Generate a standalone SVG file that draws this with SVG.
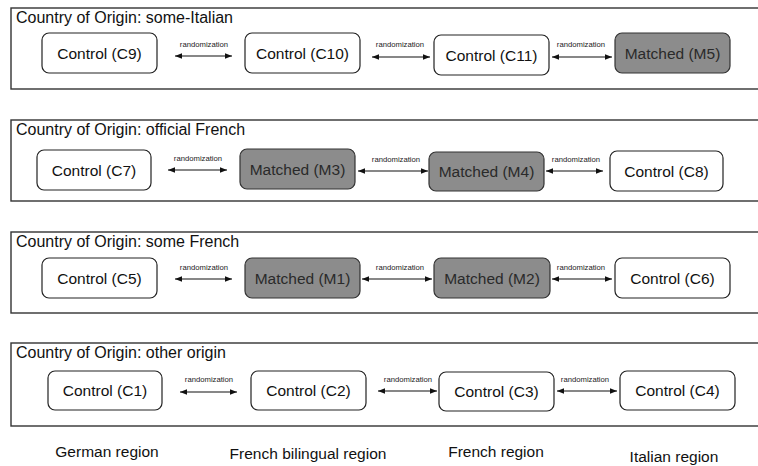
<svg xmlns="http://www.w3.org/2000/svg" width="758" height="466" viewBox="0 0 758 466">
<defs>
<marker id="ah" viewBox="0 0 10 10" refX="10" refY="5" markerWidth="7" markerHeight="7" markerUnits="userSpaceOnUse" orient="auto-start-reverse">
<path d="M0,1 L10,5 L0,9 Z" fill="#111"/>
</marker>
<style>
.panel{fill:#fff;stroke:#333;stroke-width:1.4}
.title{font-family:"Liberation Sans",Arial,sans-serif;font-size:16px;fill:#111}
.ctl rect{fill:#fff;stroke:#222;stroke-width:1.2}
.mat rect{fill:#8c8c8c;stroke:#333;stroke-width:1.2}
.node text{font-family:"Liberation Sans",Arial,sans-serif;font-size:15.5px;text-anchor:middle;dominant-baseline:central}
.ctl text{fill:#111}
.mat text{fill:#2a2a2a}
.edge line{stroke:#111;stroke-width:1.1;marker-start:url(#ah);marker-end:url(#ah)}
.lbl{font-family:"Liberation Sans",Arial,sans-serif;font-size:7.7px;fill:#222;text-anchor:middle}
.region{font-family:"Liberation Sans",Arial,sans-serif;font-size:15.5px;fill:#111;text-anchor:middle}
</style>
</defs>
<rect width="758" height="466" fill="#fff"/>

<!-- panels -->
<g id="panel1"><rect class="panel" x="11" y="8" width="760" height="81"/><text class="title" x="16" y="22.5">Country of Origin: some-Italian</text></g>
<g id="panel2"><rect class="panel" x="11" y="120" width="760" height="81"/><text class="title" x="16" y="134.5">Country of Origin: official French</text></g>
<g id="panel3"><rect class="panel" x="11" y="232" width="760" height="81"/><text class="title" x="16" y="246.5">Country of Origin: some French</text></g>
<g id="panel4"><rect class="panel" x="11" y="343" width="760" height="83"/><text class="title" x="16" y="357.5">Country of Origin: other origin</text></g>

<!-- connectors -->
<g id="connectors" class="edge">
<line x1="175" y1="56" x2="232" y2="56"/><text class="lbl" x="204" y="47">randomization</text>
<line x1="372" y1="57" x2="430" y2="57"/><text class="lbl" x="400" y="47">randomization</text>
<line x1="552" y1="57" x2="612" y2="57"/><text class="lbl" x="581" y="47">randomization</text>

<line x1="168" y1="170" x2="227" y2="170"/><text class="lbl" x="198" y="161">randomization</text>
<line x1="358" y1="171" x2="428" y2="171"/><text class="lbl" x="396" y="162">randomization</text>
<line x1="546" y1="171" x2="603" y2="171"/><text class="lbl" x="576" y="162">randomization</text>

<line x1="175" y1="279" x2="232" y2="279"/><text class="lbl" x="204" y="270">randomization</text>
<line x1="362" y1="279" x2="432" y2="279"/><text class="lbl" x="400" y="270">randomization</text>
<line x1="552" y1="279" x2="612" y2="279"/><text class="lbl" x="581" y="270">randomization</text>

<line x1="180" y1="392" x2="237" y2="392"/><text class="lbl" x="209" y="382">randomization</text>
<line x1="378" y1="391" x2="437" y2="391"/><text class="lbl" x="408" y="382">randomization</text>
<line x1="557" y1="391" x2="617" y2="391"/><text class="lbl" x="585" y="382">randomization</text>
</g>

<!-- nodes panel 1 -->
<g id="C9" class="node ctl"><rect x="42" y="33" width="115" height="40" rx="7"/><text x="99.5" y="53">Control (C9)</text></g>
<g id="C10" class="node ctl"><rect x="245" y="33" width="115" height="40" rx="7"/><text x="302.5" y="53">Control (C10)</text></g>
<g id="C11" class="node ctl"><rect x="434" y="35" width="115" height="40" rx="7"/><text x="491.5" y="55">Control (C11)</text></g>
<g id="M5" class="node mat"><rect x="615" y="33" width="115" height="40" rx="7"/><text x="672.5" y="53">Matched (M5)</text></g>

<!-- nodes panel 2 -->
<g id="C7" class="node ctl"><rect x="37" y="150" width="114" height="40" rx="7"/><text x="94" y="170">Control (C7)</text></g>
<g id="M3" class="node mat"><rect x="240" y="149" width="115" height="40" rx="7"/><text x="297.5" y="169">Matched (M3)</text></g>
<g id="M4" class="node mat"><rect x="429" y="152" width="115" height="39" rx="7"/><text x="486.5" y="171.5">Matched (M4)</text></g>
<g id="C8" class="node ctl"><rect x="610" y="151" width="113" height="40" rx="7"/><text x="666.5" y="171">Control (C8)</text></g>

<!-- nodes panel 3 -->
<g id="C5" class="node ctl"><rect x="42" y="258" width="115" height="40" rx="7"/><text x="99.5" y="278">Control (C5)</text></g>
<g id="M1" class="node mat"><rect x="245" y="258" width="115" height="40" rx="7"/><text x="302.5" y="278">Matched (M1)</text></g>
<g id="M2" class="node mat"><rect x="434" y="258" width="116" height="40" rx="7"/><text x="492" y="278">Matched (M2)</text></g>
<g id="C6" class="node ctl"><rect x="615" y="258" width="115" height="40" rx="7"/><text x="672.5" y="278">Control (C6)</text></g>

<!-- nodes panel 4 -->
<g id="C1" class="node ctl"><rect x="48" y="371" width="114" height="39" rx="7"/><text x="105" y="390.5">Control (C1)</text></g>
<g id="C2" class="node ctl"><rect x="251" y="371" width="115" height="39" rx="7"/><text x="308.5" y="390.5">Control (C2)</text></g>
<g id="C3" class="node ctl"><rect x="439" y="372" width="115" height="39" rx="7"/><text x="496.5" y="391.5">Control (C3)</text></g>
<g id="C4" class="node ctl"><rect x="620" y="371" width="115" height="39" rx="7"/><text x="677.5" y="390.5">Control (C4)</text></g>

<!-- region labels -->
<g id="regions">
<text class="region" x="107" y="457">German region</text>
<text class="region" x="308" y="459">French bilingual region</text>
<text class="region" x="496" y="457">French region</text>
<text class="region" x="674" y="462">Italian region</text>
</g>
</svg>
